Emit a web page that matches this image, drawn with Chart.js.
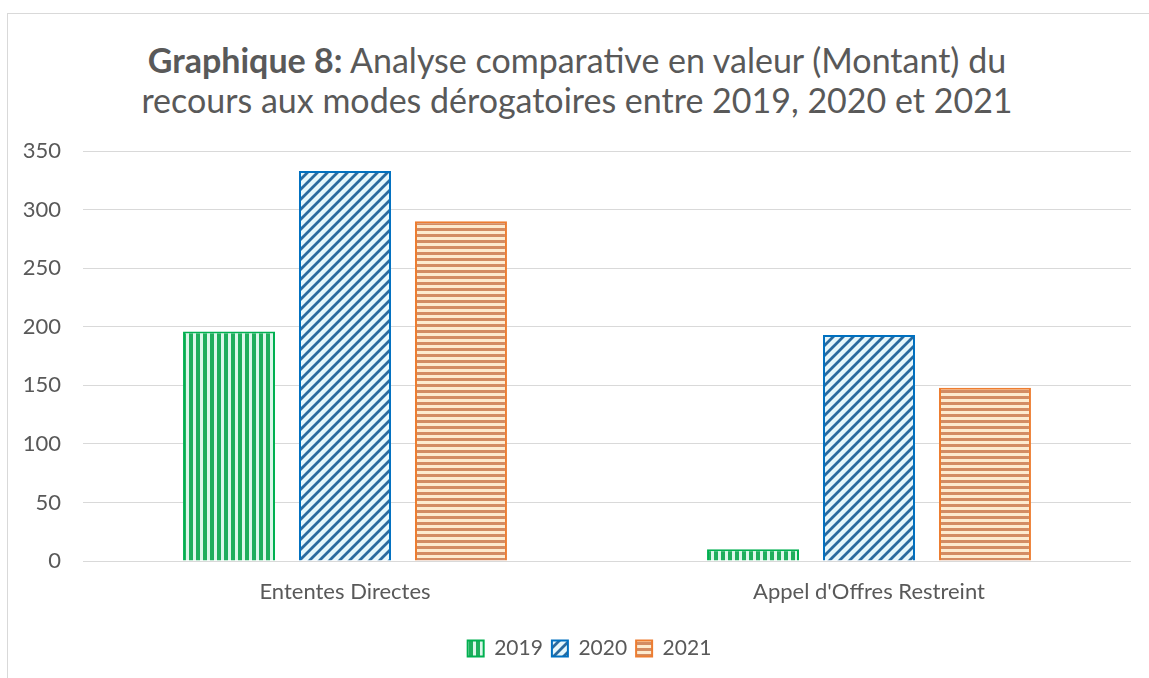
<!DOCTYPE html>
<html>
<head>
<meta charset="utf-8">
<script src="https://cdn.jsdelivr.net/npm/chart.js@4"></script>
<style>
  html, body { margin: 0; padding: 0; background: #fff; }
  #wrap { position: relative; width: 1149px; height: 678px; overflow: hidden; }
  #frame { position: absolute; left: 7px; top: 13px; width: 1160px; height: 700px; border: 1px solid #d9d9d9; box-sizing: border-box; }
  #title { position: absolute; left: 0; top: 40px; width: 1154px; text-align: center; font-family: Lato, "Open Sans", sans-serif; font-size: 34px; line-height: 40px; color: #595959; }
  #title b { font-weight: bold; }
  canvas { position: absolute; left: 0; top: 0; }
</style>
</head>
<body>
<div id="wrap">
  <div id="frame"></div>
  <div id="title"><b>Graphique 8:</b> Analyse comparative en valeur (Montant) du<br>recours aux modes dérogatoires entre 2019, 2020 et 2021</div>
  <canvas id="c" width="1149" height="678"></canvas>
</div>
<script>
const categories = ["Ententes Directes", "Appel d'Offres Restreint"];
const seriesLabels = ["2019", "2020", "2021"];
const values2019 = [196, 10];
const values2020 = [333, 193];
const values2021 = [290, 148];
const yTicks = [0, 50, 100, 150, 200, 250, 300, 350];

function makePattern(kind) {
  const t = document.createElement('canvas');
  const g = t.getContext('2d');
  if (kind === 'v') {
    t.width = 7; t.height = 7;
    g.fillStyle = '#dcf7ea'; g.fillRect(0, 0, 7, 7);
    g.fillStyle = '#1fae5c'; g.fillRect(0, 0, 4, 7);
  } else if (kind === 'd') {
    t.width = 10; t.height = 10;
    g.fillStyle = '#e6f7fc'; g.fillRect(0, 0, 10, 10);
    g.strokeStyle = '#2a6a9e'; g.lineWidth = 2.8;
    g.beginPath();
    g.moveTo(-2, 12); g.lineTo(12, -2);
    g.moveTo(-7, 7); g.lineTo(7, -7);
    g.moveTo(3, 17); g.lineTo(17, 3);
    g.stroke();
  } else {
    t.width = 6; t.height = 6;
    g.fillStyle = '#fdebcf'; g.fillRect(0, 0, 6, 6);
    g.fillStyle = '#d38c63'; g.fillRect(0, 0, 6, 3);
  }
  return g.createPattern(t, 'repeat');
}

const txt = '#595959';
const font = "Lato, 'Open Sans', sans-serif";

const legendShift = {
  id: 'legendShift',
  afterLayout(chart) {
    const lg = chart.legend;
    if (lg) { lg.left += 24; lg.right += 24; }
  }
};

new Chart(document.getElementById('c'), {
  type: 'bar',
  data: {
    labels: categories,
    datasets: [
      { label: seriesLabels[0], data: values2019, backgroundColor: makePattern('v'), borderColor: '#00B050', borderWidth: 2 },
      { label: seriesLabels[1], data: values2020, backgroundColor: makePattern('d'), borderColor: '#0070C0', borderWidth: 2 },
      { label: seriesLabels[2], data: values2021, backgroundColor: makePattern('h'), borderColor: '#ED7D31', borderWidth: 2 }
    ]
  },
  plugins: [legendShift],
  options: {
    responsive: false,
    animation: false,
    devicePixelRatio: 1,
    datasets: { bar: { categoryPercentage: 0.664, barPercentage: 0.793 } },
    layout: { padding: { left: 0, right: 18, top: 151, bottom: 9 } },
    scales: {
      x: {
        grid: { display: false, drawTicks: false },
        border: { display: false },
        ticks: { color: txt, font: { family: font, size: 22 }, padding: 18 },
        afterFit: s => { s.height = 68; }
      },
      y: {
        min: 0, max: 350,
        afterBuildTicks: s => { s.ticks = yTicks.map(v => ({ value: v })); },
        grid: { color: '#d9d9d9', lineWidth: 1, drawTicks: false },
        border: { display: false },
        ticks: { color: txt, font: { family: font, size: 22 }, padding: 22 },
        afterFit: s => { s.width = 83; }
      }
    },
    plugins: {
      title: { display: false },
      tooltip: { enabled: false },
      legend: {
        position: 'bottom',
        labels: { color: txt, font: { family: font, size: 21 }, boxWidth: 16, boxHeight: 16, padding: 9 }
      }
    }
  }
});
</script>
</body>
</html>
